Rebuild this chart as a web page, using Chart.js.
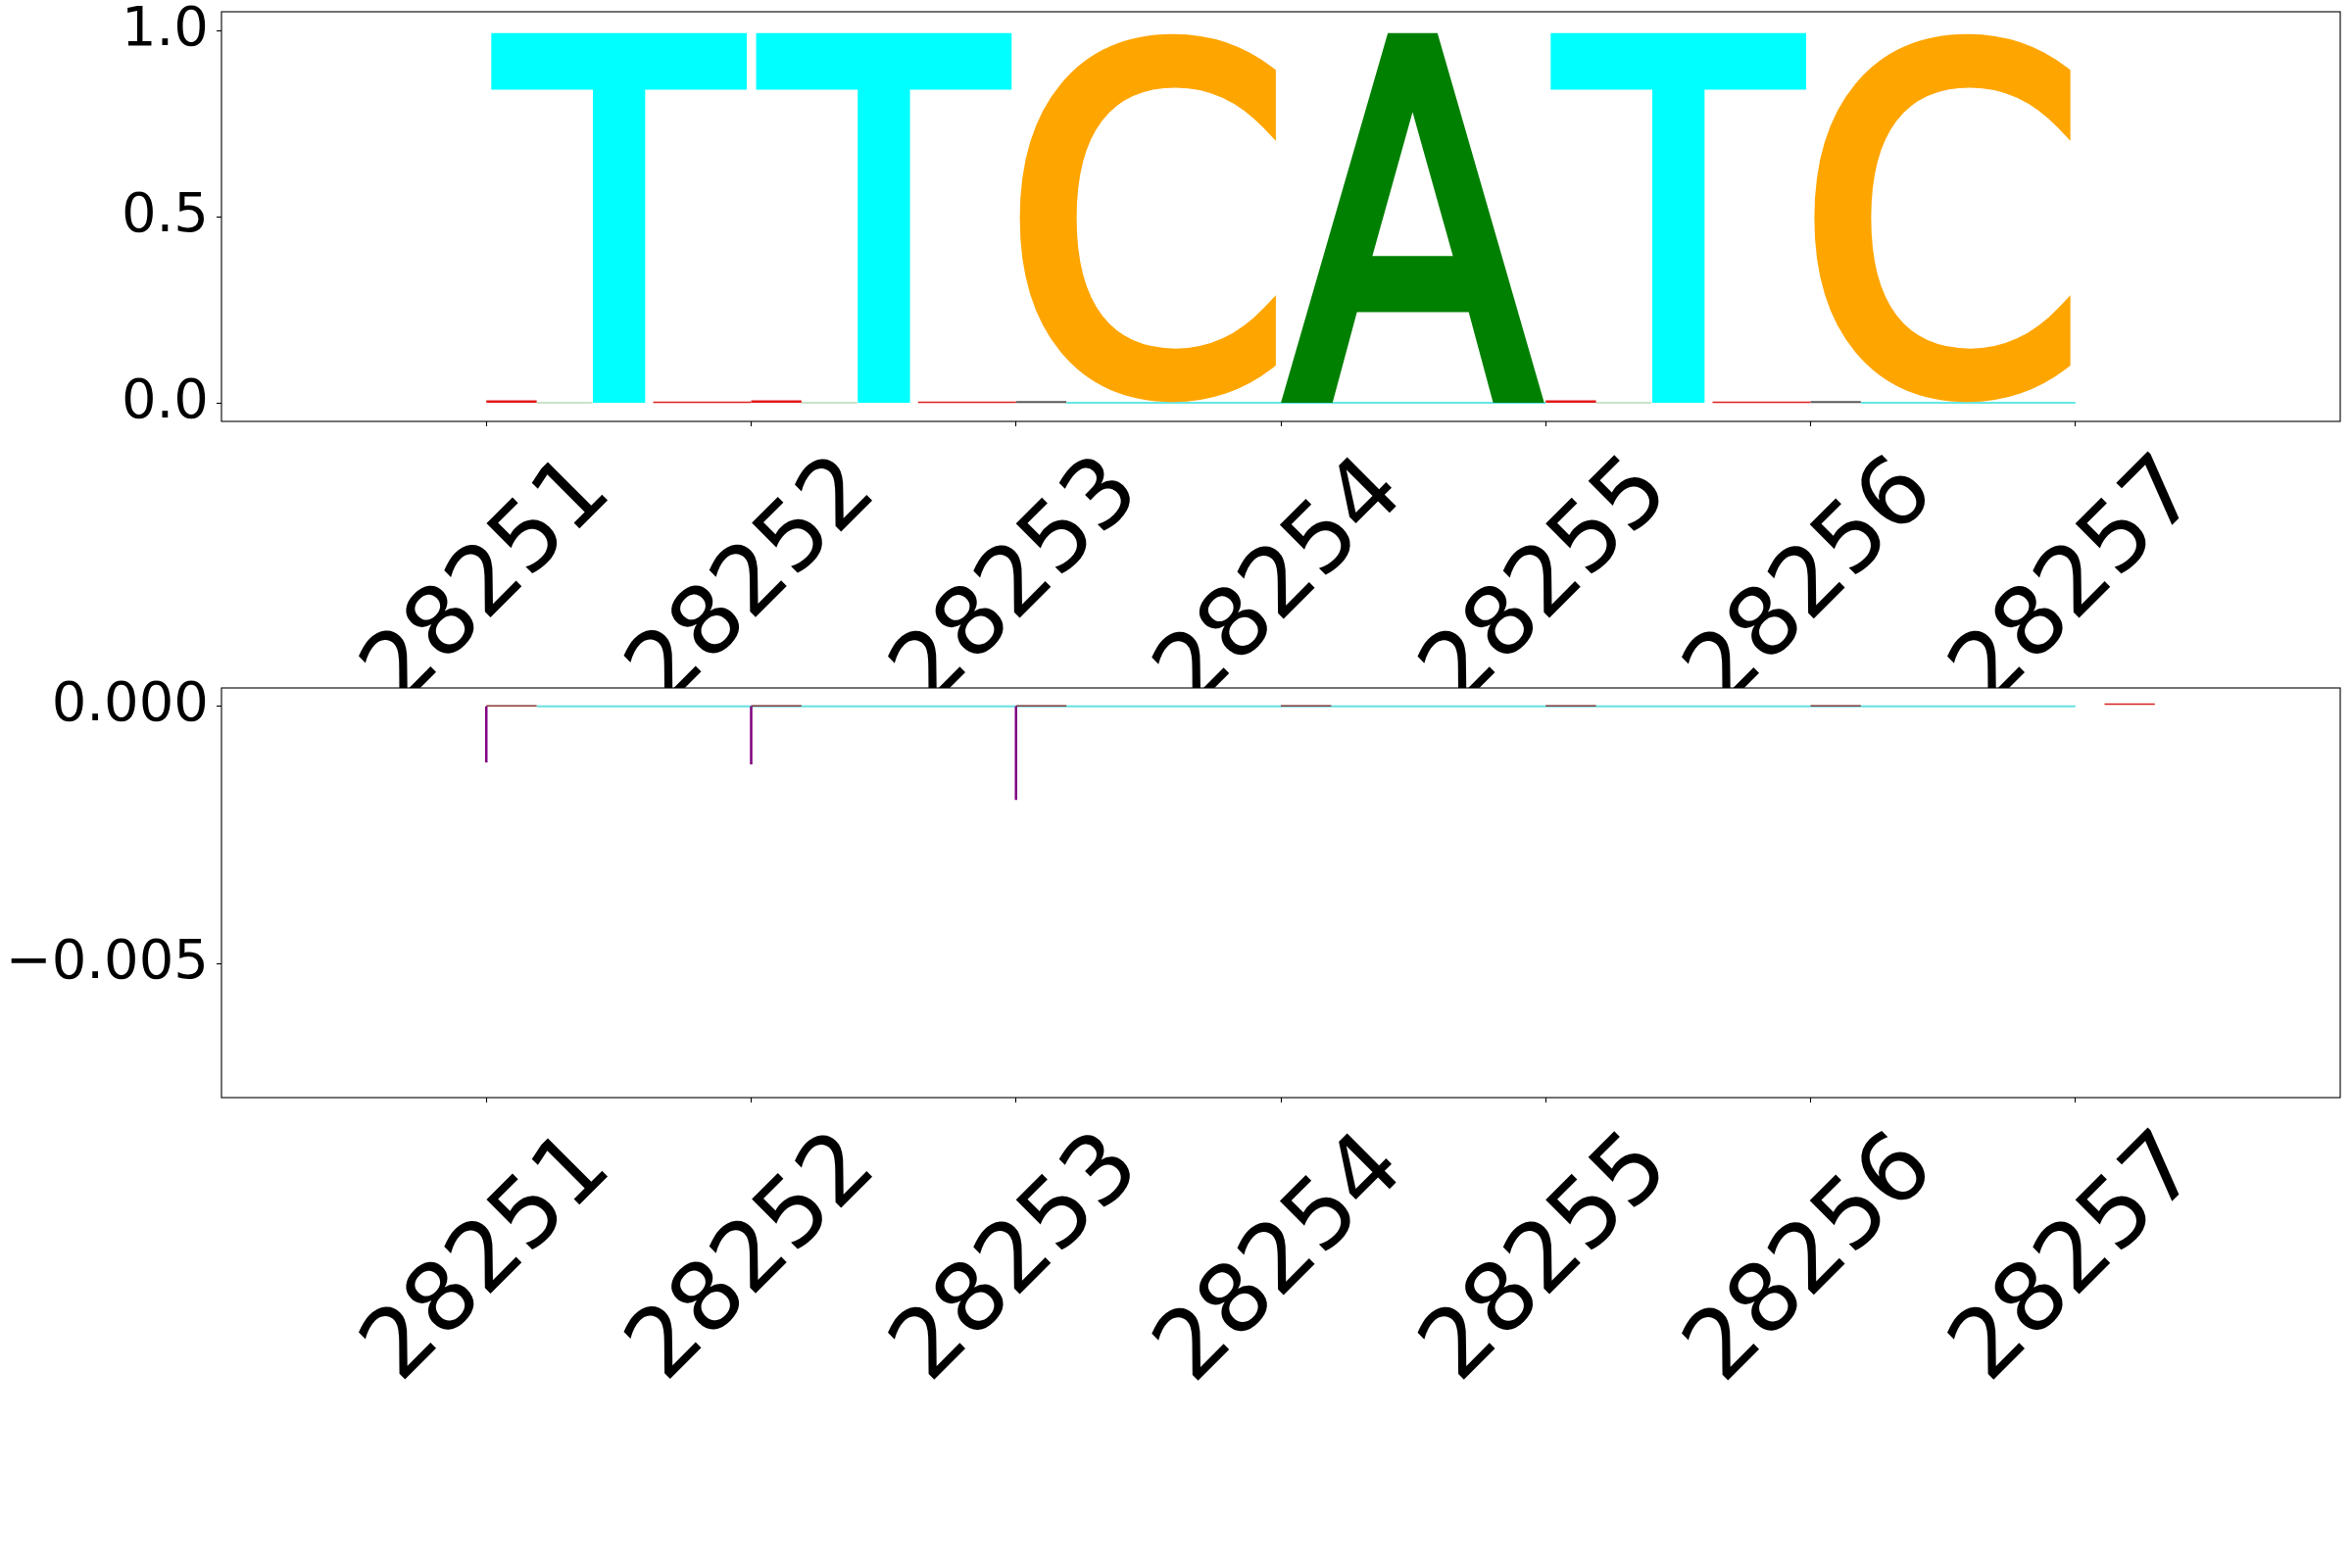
<!DOCTYPE html>
<html>
<head>
<meta charset="utf-8">
<script src="https://cdn.jsdelivr.net/npm/chart.js@4.4.1/dist/chart.umd.min.js"></script>
<style>
html, body { margin: 0; padding: 0; background: #ffffff; }
#wrap { position: relative; width: 2400px; height: 1600px; overflow: hidden; background: #ffffff; }
#c1 { position: absolute; left: 0; top: 0; }
#c2 { position: absolute; left: 0; top: 690px; }
</style>
</head>
<body>
<div id="wrap">
  <canvas id="c1" width="2400" height="702"></canvas>
  <canvas id="c2" width="2400" height="910"></canvas>
</div>
<script>
// ---------------- data ----------------
const positions = [28251, 28252, 28253, 28254, 28255, 28256, 28257];
const xTickLabels = ['28251', '28252', '28253', '28254', '28255', '28256', '28257'];

// sequence logo (top panel): one letter per position, width 1 position
const logoLetters   = ['T', 'T', 'C', 'A', 'T', 'C'];
const logoPositions = [28251, 28252, 28253, 28254, 28255, 28256];
const logoHeights   = [1.0, 1.0, 1.0, 1.0, 1.0, 1.0];
const letterColors  = { T: '#00ffff', C: '#ffa500', A: '#008000', G: '#ff0000' };

const topYTicks = [0, 0.5, 1.0];
const bottomYTicks = [-0.005, 0];

// tiny near-zero marks in the top panel: [xStart, xEnd]
const topRedThick = [[28251, 28251.19], [28252, 28252.19], [28255, 28255.19]];
const topRedThin  = [[28251.63, 28252], [28252.63, 28253], [28255.63, 28256]];
const topGray     = [[28253, 28253.19], [28256, 28256.19]];
const topGreen    = [[28251.19, 28251.4], [28252.19, 28252.4], [28255.19, 28255.4]];
const topCyan     = [[28253.19, 28255], [28256.19, 28257]];
const topRedThickY = 0.003, topRedThinY = 0.0012, topGrayY = 0.002, topGreenY = 0, topCyanY = 0;

// bottom panel
const bottomPurplePos  = [28251, 28252, 28253];
const bottomPurpleVals = [-0.00109, -0.00113, -0.00182];
const bottomDarkRed = [[28251, 28251.19], [28252, 28252.19], [28253, 28253.19],
                       [28254, 28254.19], [28255, 28255.19], [28256, 28256.19]];
const bottomRed  = [[28257.11, 28257.3]];
const bottomCyan = [[28251.19, 28257]];
const bottomDarkRedY = 0.00001, bottomRedY = 0.00004, bottomCyanY = 0;

// ---------------- helpers ----------------
function segData(list, y) {
  const out = [];
  list.forEach(s => { out.push({x: s[0], y: y}, {x: s[1], y: y}, {x: s[1], y: null}); });
  return out;
}
function vertData(xs, vals) {
  const out = [];
  xs.forEach((x, i) => { out.push({x: x, y: 0}, {x: x, y: vals[i]}, {x: x, y: null}); });
  return out;
}
function lineDS(data, color, width) {
  return { data: data, borderColor: color, borderWidth: width, pointRadius: 0,
           fill: false, spanGaps: false, tension: 0, borderCapStyle: 'butt' };
}

function logoPlugin(letters, pos, heights) {
  return {
    id: 'logo',
    afterDatasetsDraw(chart) {
      const {ctx, scales: {x, y}} = chart;
      const fs = 400, lw = 0.034 * fs;
      letters.forEach((L, i) => {
        const px0 = x.getPixelForValue(pos[i]);
        const px1 = x.getPixelForValue(pos[i] + 1);
        const pyb = y.getPixelForValue(0);
        const pyt = y.getPixelForValue(heights[i]);
        ctx.save();
        ctx.font = fs + 'px "DejaVu Sans"';
        ctx.textAlign = 'left';
        ctx.textBaseline = 'alphabetic';
        const m = ctx.measureText(L);
        const iw = m.actualBoundingBoxLeft + m.actualBoundingBoxRight + lw;
        const ih = m.actualBoundingBoxAscent + m.actualBoundingBoxDescent + lw;
        ctx.translate(px0, pyb);
        ctx.scale((px1 - px0) / iw, (pyb - pyt) / ih);
        ctx.fillStyle = letterColors[L];
        ctx.strokeStyle = letterColors[L];
        ctx.lineWidth = lw;
        ctx.lineJoin = 'miter';
        const tx = m.actualBoundingBoxLeft + lw / 2, ty = -m.actualBoundingBoxDescent - lw / 2;
        ctx.fillText(L, tx, ty);
        ctx.strokeText(L, tx, ty);
        ctx.restore();
      });
    }
  };
}

function framePlugin(whiteBg) {
  return {
    id: 'frame',
    beforeDraw(chart) {
      if (!whiteBg) return;
      const {ctx, chartArea: a} = chart;
      ctx.save();
      ctx.fillStyle = '#ffffff';
      ctx.fillRect(a.left, a.top, a.right - a.left, a.bottom - a.top);
      ctx.restore();
    },
    afterDraw(chart) {
      const {ctx, chartArea: a, scales: {x}} = chart;
      ctx.save();
      ctx.strokeStyle = '#000000';
      ctx.lineWidth = 1.1;
      ctx.strokeRect(a.left, a.top, a.right - a.left, a.bottom - a.top);
      // rotated x tick labels (centred like matplotlib)
      ctx.font = '97px "DejaVu Sans"';
      ctx.fillStyle = '#000000';
      ctx.textAlign = 'center';
      ctx.textBaseline = 'alphabetic';
      positions.forEach((v, i) => {
        const t = xTickLabels[i];
        const m = ctx.measureText(t);
        const cx = (m.actualBoundingBoxRight - m.actualBoundingBoxLeft) / 2;
        const cy = (m.actualBoundingBoxDescent - m.actualBoundingBoxAscent) / 2;
        ctx.save();
        ctx.translate(x.getPixelForValue(v) - 4.7, a.bottom + 158.8);
        ctx.rotate(-Math.PI / 4);
        ctx.fillText(t, -cx, -cy);
        ctx.restore();
      });
      ctx.restore();
    }
  };
}

function baseOptions(yMin, yMax, yTicks, fmt, xAxisHeight) {
  const grid = { drawOnChartArea: false, drawTicks: true, tickLength: 5, tickColor: '#000000', tickWidth: 1.1 };
  return {
    responsive: false, animation: false, devicePixelRatio: 1,
    layout: { padding: { top: 12, right: 12, left: 0, bottom: 0 } },
    plugins: { legend: { display: false }, tooltip: { enabled: false } },
    scales: {
      x: {
        type: 'linear', min: 28250, max: 28258,
        afterBuildTicks: s => { s.ticks = positions.map(v => ({ value: v })); },
        afterFit: s => { s.height = xAxisHeight; s.paddingLeft = 0; s.paddingRight = 0; },
        ticks: { display: false },
        grid: grid,
        border: { display: false }
      },
      y: {
        type: 'linear', min: yMin, max: yMax,
        afterBuildTicks: s => { s.ticks = yTicks.map(v => ({ value: v })); },
        afterFit: s => { s.width = 226; s.paddingTop = 0; s.paddingBottom = 0; },
        ticks: { callback: fmt, font: { family: 'DejaVu Sans', size: 56 }, color: '#000000', padding: 8 },
        grid: grid,
        border: { display: false }
      }
    }
  };
}

// ---------------- top chart ----------------
new Chart(document.getElementById('c1'), {
  type: 'line',
  data: {
    datasets: [
      lineDS(segData(topRedThick, topRedThickY), '#e01a1a', 2.5),
      lineDS(segData(topRedThin, topRedThinY), '#e02020', 1.5),
      lineDS(segData(topGray, topGrayY), '#5a5a5a', 2),
      lineDS(segData(topGreen, topGreenY), '#b8dcb8', 1.5),
      lineDS(segData(topCyan, topCyanY), '#66e6e6', 2)
    ]
  },
  options: baseOptions(-0.05, 1.05, topYTicks, v => v.toFixed(1), 272),
  plugins: [logoPlugin(logoLetters, logoPositions, logoHeights), framePlugin(false)]
});

// ---------------- bottom chart ----------------
new Chart(document.getElementById('c2'), {
  type: 'line',
  data: {
    datasets: [
      lineDS(vertData(bottomPurplePos, bottomPurpleVals), '#800080', 2.5),
      lineDS(segData(bottomDarkRed, bottomDarkRedY), '#8b3a3a', 1.5),
      lineDS(segData(bottomRed, bottomRedY), '#d62020', 1.5),
      lineDS(segData(bottomCyan, bottomCyanY), '#66e0e0', 2)
    ]
  },
  options: baseOptions(-0.0076, 0.000356, bottomYTicks,
    v => (v === 0 ? '0.000' : (v < 0 ? '\u2212' : '') + Math.abs(v).toFixed(3)), 480),
  plugins: [framePlugin(true)]
});
</script>
</body>
</html>
